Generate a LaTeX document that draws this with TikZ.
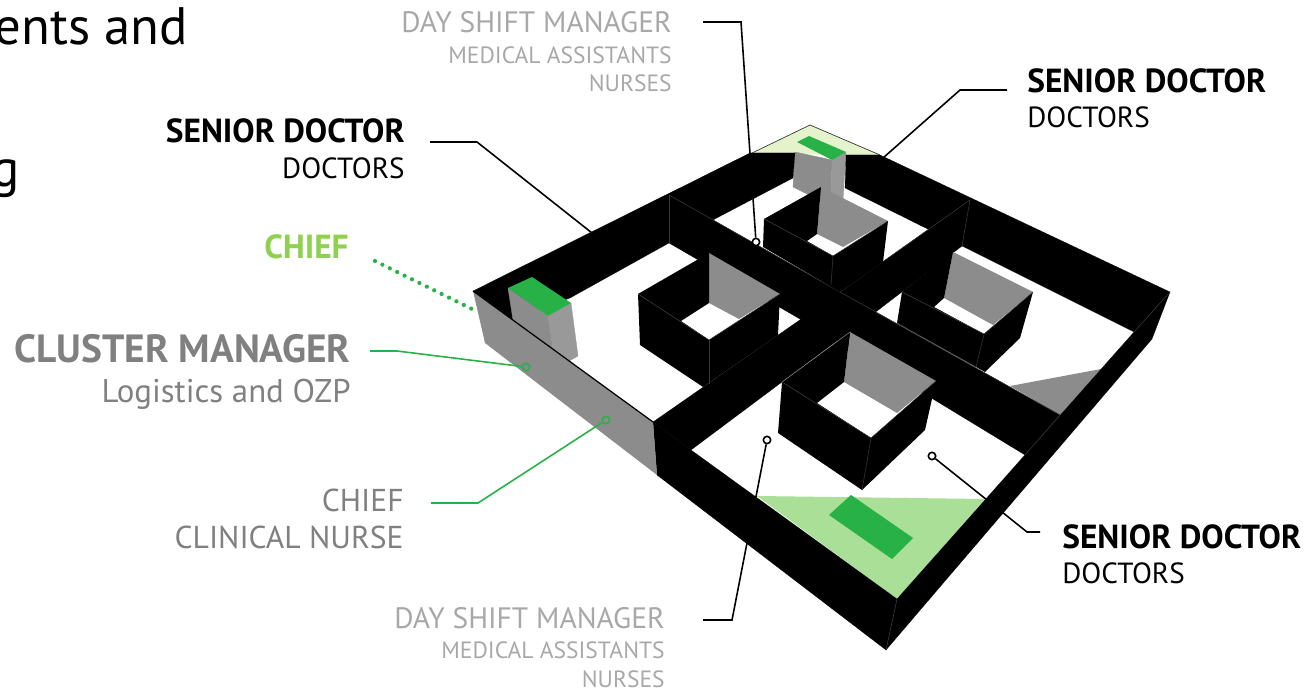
\documentclass[tikz,border=0pt]{standalone}
\usepackage{fontspec}
\setmainfont{PT Sans}
\definecolor{gmid}{HTML}{8C8C8C}
\definecolor{glight}{HTML}{999999}
\definecolor{gtext}{HTML}{808080}
\definecolor{gpale}{HTML}{A8A8A8}
\definecolor{dgreen}{HTML}{27B146}
\definecolor{lgreen}{HTML}{A9DF96}
\definecolor{pgreen}{HTML}{E4F3CC}
\definecolor{chiefg}{HTML}{8FD14F}
\definecolor{hair}{HTML}{3A3A3A}
\tikzset{
  wall/.style={fill=black,draw=black,line width=0.1pt},
  hairl/.style={draw=hair,line width=0.3pt},
  conn/.style={draw=black,line width=0.9pt},
  gconn/.style={draw=dgreen,line width=0.9pt},
  dotb/.style={circle,draw=black,fill=white,line width=0.9pt,inner sep=0pt,minimum size=4.2pt},
  dotg/.style={circle,draw=dgreen,fill=none,line width=0.9pt,inner sep=0pt,minimum size=4.2pt},
  lbl/.style={anchor=base east,inner sep=0pt,yshift=-0.4pt},
  lbll/.style={anchor=base west,inner sep=0pt,yshift=-0.4pt},
  bign/.style={font=\fontsize{19}{21}\selectfont\bfseries},
  smalln/.style={font=\fontsize{16.6}{20}\selectfont},
  paleA/.style={gpale,font=\fontsize{16.8}{20}\selectfont},
  paleB/.style={gpale,font=\fontsize{13.4}{16}\selectfont},
  faceA/.style={fill=gmid,draw=gmid,line width=0.2pt},
  faceB/.style={fill=glight,draw=glight,line width=0.2pt},
}
\begin{document}
\begin{tikzpicture}[x=0.02cm,y=-0.02cm]
\useasboundingbox (0,0) rectangle (1310,688);
% floor triangles
\fill[pgreen] (750,154) -- (810,125) -- (880,155) -- cycle;
\draw[hair,line width=0.4pt] (750,154) -- (810,125) -- (880,155);
\fill[lgreen] (757,496) -- (985,499) -- (897,599) -- cycle;
\fill[gmid] (1010,386) -- (1101,369) -- (1060,415) -- cycle;
% top pillar
\path[faceA] (795,152) -- (832,160) -- (831,200) -- (815,198) -- (793,187) -- cycle;
\path[faceB] (832,160) -- (846,152) -- (843,200) -- (831,200) -- cycle;
% walls
\fill[wall] (473,291) -- (750,153) -- (795,153) -- (793,178) -- (669,243) -- (570,298) -- (513,320) -- cycle;
\fill[wall] (846,155) -- (880,155) -- (1170,292) -- (1134,332) -- (962,246) -- (845,188) -- cycle;
\fill[wall] (669,195) -- (840,292) -- (836,340) -- (669,243) -- cycle;
\fill[wall] (653,422) -- (840,292) -- (970,200) -- (962,246) -- (877,311) -- (691,450) -- cycle;
\fill[wall] (840,292) -- (1060,415) -- (1025,455) -- (836,340) -- cycle;
\fill[wall] (653,422) -- (691,450) -- (897,599) -- (886,650) -- (657,475) -- cycle;
\fill[wall] (1134,332) -- (1170,292) -- (1152,339) -- (886,650) -- (897,599) -- cycle;
\draw[hairl] (669,195) -- (840,292) -- (970,200) -- (962,246);
\draw[hairl] (669,195) -- (669,243);
\draw[hairl] (840,292) -- (1060,415);
\draw[hairl] (1025,455) -- (1060,415);
\draw[hairl] (1134,332) -- (1170,292);
\draw[hairl] (897,599) -- (886,650);
% front-left grey wall
\fill[gmid] (473,291) -- (653,422) -- (657,475) -- (485,343) -- cycle;
% left pillar
\path[faceA] (508,288) -- (548,316) -- (553,349) -- (513,320) -- cycle;
\path[faceB] (548,316) -- (571,303) -- (578,356) -- (569,361) -- (553,349) -- cycle;
\draw[black,line width=0.7pt] (473,291) -- (653,422);
\fill[dgreen] (532,277) -- (571,303) -- (548,316) -- (508,288) -- cycle;
% top pillar lid
\fill[dgreen] (809,136) -- (846,152) -- (832,160) -- (797,142) -- cycle;
% bottom lid
\fill[dgreen] (851,495) -- (913,538) -- (892,559) -- (829,515) -- cycle;
% box 2
\fill[gmid] (821,187) -- (888,221) -- (843,247) -- (817,234) -- cycle;
\fill[black] (764,219) -- (821,187) -- (817,234) -- (807,241) -- (833,256) -- cycle;
\fill[black] (764,219) -- (833,256) -- (888,221) -- (883,262) -- (840,292) -- (763,247) -- cycle;
\draw[hairl] (764,219) -- (833,256) -- (888,221);
\draw[hairl] (833,256) -- (831,285);
% box 1
\fill[gmid] (709,253) -- (780,294) -- (739,319) -- (709,303) -- cycle;
\fill[black] (638,294) -- (709,253) -- (709,303) -- (681,321) -- (709,340) -- cycle;
\fill[black] (638,294) -- (709,340) -- (780,294) -- (778,335) -- (703,387) -- (640,345) -- cycle;
\draw[hairl] (638,294) -- (709,340) -- (780,294);
\draw[hairl] (709,340) -- (709,384);
% box 3
\fill[gmid] (953,252) -- (1033,292) -- (993,325) -- (944,298) -- cycle;
\fill[black] (902,292) -- (953,252) -- (944,298) -- (934,307) -- (984,334) -- cycle;
\fill[black] (902,292) -- (984,334) -- (1033,292) -- (1020,338) -- (985,372) -- (897,323) -- cycle;
\draw[hairl] (902,292) -- (984,334) -- (1033,292);
\draw[hairl] (984,334) -- (976,367);
\draw[hairl] (897,323) -- (976,367);
% box 4
\fill[gmid] (850,332) -- (936,381) -- (897,413) -- (844,382) -- cycle;
\fill[black] (782,382) -- (850,332) -- (844,382) -- (817,403) -- (871,438) -- cycle;
\fill[black] (782,382) -- (871,438) -- (936,381) -- (925,430) -- (862,490) -- (778,433) -- cycle;
\draw[hairl] (782,382) -- (871,438) -- (936,381);
\draw[hairl] (871,438) -- (862,490);
\draw[draw=gmid,line width=0.3pt] (782,382) -- (850,332);
% connectors
\coordinate (dsA) at (703,22); \coordinate (dsB) at (741,22);
\node[dotb] (dsD) at (756,242) {};
\draw[conn] (dsA) -- (dsB) -- (dsD);
\coordinate (sdA) at (1007,90); \coordinate (sdB) at (960,90); \coordinate (sdC) at (883,158);
\draw[conn] (sdA) -- (sdB) -- (sdC);
\coordinate (slA) at (430,142); \coordinate (slB) at (477,142); \coordinate (slC) at (592,233);
\draw[conn] (slA) -- (slB) -- (slC);
\coordinate (chA) at (375,261); \coordinate (chB) at (478,312);
\draw[draw=dgreen,line width=2.4pt,line cap=round,dash pattern=on 0pt off 4.7pt] (chA) -- (chB);
\coordinate (clA) at (370,351); \coordinate (clB) at (397,351);
\node[dotg] (clD) at (526,367) {};
\draw[gconn] (clA) -- (clB) -- (clD);
\coordinate (ccA) at (431,503); \coordinate (ccB) at (478,503);
\node[dotg] (ccD) at (606,420) {};
\draw[gconn] (ccA) -- (ccB) -- (ccD);
\coordinate (d2A) at (703,620); \coordinate (d2B) at (732,620);
\node[dotb] (d2D) at (767,440) {};
\draw[conn] (d2A) -- (d2B) -- (d2D);
\coordinate (srA) at (1040,532); \coordinate (srB) at (1027,532);
\node[dotb] (srD) at (932,456) {};
\draw[conn] (srA) -- (srB) -- (srD);
% texts
\node[lbl,font=\fontsize{30}{32}\selectfont] (t1) at (188,44) {ents and};
\node[lbl,font=\fontsize{30}{32}\selectfont] (t2) at (20,186) {g};
\node[lbl,paleA] (a1) at (672,32) {DAY SHIFT MANAGER};
\node[lbl,paleB] (a2) at (672,63) {MEDICAL ASSISTANTS};
\node[lbl,paleB] (a3) at (672,91) {NURSES};
\node[lbll,bign] (b1) at (1027,92) {SENIOR DOCTOR};
\node[lbll,smalln] (b2) at (1027,127) {DOCTORS};
\node[lbl,bign] (c1) at (405,142) {SENIOR DOCTOR};
\node[lbl,smalln] (c2) at (405,178) {DOCTORS};
\node[lbl,chiefg,font=\fontsize{19}{21}\selectfont\bfseries] (d1) at (349,258) {CHIEF};
\node[lbl,gtext,font=\fontsize{22.4}{24}\selectfont\bfseries] (e1) at (351,362) {CLUSTER MANAGER};
\node[lbl,gtext,font=\fontsize{18.7}{20}\selectfont] (e2) at (351,402) {Logistics and OZP};
\node[lbl,gtext,font=\fontsize{18}{20}\selectfont] (f1) at (404,511) {CHIEF};
\node[lbl,gtext,font=\fontsize{18}{20}\selectfont] (f2) at (404,548) {CLINICAL NURSE};
\node[lbl,paleA] (g1) at (665,628) {DAY SHIFT MANAGER};
\node[lbl,paleB] (g2) at (665,658) {MEDICAL ASSISTANTS};
\node[lbl,paleB] (g3) at (665,687) {NURSES};
\node[lbll,bign] (h1) at (1062,548) {SENIOR DOCTOR};
\node[lbll,smalln] (h2) at (1062,583) {DOCTORS};
\end{tikzpicture}
\end{document}
